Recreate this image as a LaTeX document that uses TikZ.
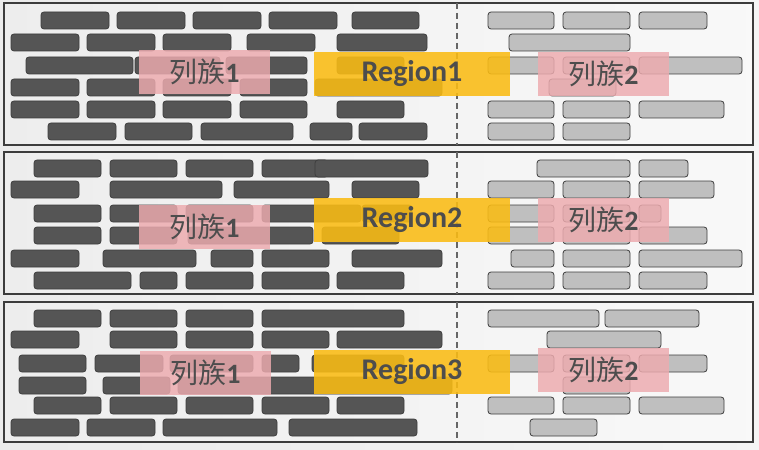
\documentclass[tikz,border=0pt]{standalone}
\usepackage{fontspec}
\setmainfont[Numbers=Lining]{Carlito}
\newfontfamily\cjk{Noto Sans CJK SC}
\usetikzlibrary{positioning}
\definecolor{bardark}{RGB}{85,85,85}
\definecolor{barline}{RGB}{62,62,62}
\definecolor{barlight}{RGB}{191,191,191}
\definecolor{famcol}{RGB}{237,171,175}
\definecolor{regcol}{RGB}{250,188,20}
\definecolor{txtgray}{RGB}{77,77,77}
\definecolor{framegray}{RGB}{60,60,60}

\begin{document}
\begin{tikzpicture}[x=1pt,y=-1pt,inner sep=0pt]
\tikzstyle{frame}=[draw=framegray, line width=2pt, left color=gray!14, middle color=white, right color=gray!5]
\tikzstyle{dark}=[fill=bardark, draw=barline, line width=0.8pt, rounded corners=3pt]
\tikzstyle{light}=[fill=barlight, draw=barline, line width=0.8pt, rounded corners=3pt]
\tikzstyle{divider}=[draw=black!60, line width=1.2pt, dash pattern=on 6pt off 4pt]
\tikzstyle{family}=[rectangle, fill=famcol, fill opacity=0.83, text opacity=1, text=txtgray, minimum width=131pt, minimum height=44pt, font=\fontsize{28}{28}\selectfont]
\tikzstyle{region}=[rectangle, fill=regcol, fill opacity=0.88, text opacity=1, text=txtgray, minimum width=196pt, minimum height=44pt, font=\fontsize{30}{30}\selectfont\bfseries]

\shade[left color=gray!16, middle color=white, right color=gray!8] (0,0) rectangle (759,449);
\useasboundingbox (0,0) rectangle (759,449);

% three regions
\foreach \top/\bot in {3/145, 152/294, 302/442}{
  \draw[frame] (4,\top) rectangle (753,\bot);
}

% column family 1 cells
\foreach \a/\b/\y in {41/109/12, 117/185/12, 193/261/12, 269/337/12, 352/419/12,
    11/79/34, 87/155/34, 163/231/34, 247/315/34, 337/427/34,
    26/133/57, 135/220/57, 226/307/57, 337/404/57,
    11/79/79, 87/155/79, 163/231/79, 240/307/79, 315/442/79,
    11/79/101, 87/155/101, 163/231/101, 240/307/101, 337/404/101,
    48/116/123, 125/192/123, 201/293/123, 310/352/123, 359/427/123,
    34/101/160, 110/177/160, 186/253/160, 262/328/160, 315/428/160,
    11/79/181, 110/222/181, 234/329/181, 352/419/181,
    34/101/205, 110/177/205, 186/253/205, 262/361/205, 362/412/205,
    34/101/227, 110/177/227, 188/313/227, 322/399/227,
    11/79/250, 103/196/250, 211/253/250, 262/329/250, 352/442/250,
    34/131/272, 140/177/272, 186/253/272, 262/329/272, 337/404/272,
    34/101/310, 110/177/310, 186/253/310, 262/404/310,
    11/79/331, 110/177/331, 186/253/331, 262/329/331, 337/442/331,
    19/86/355, 95/163/355, 170/253/355, 262/299/355, 312/404/355,
    19/86/377, 103/170/377, 178/452/377,
    34/101/397, 110/177/397, 186/253/397, 262/329/397, 337/404/397,
    11/79/419, 87/155/419, 163/277/419, 289/417/419}
  \draw[dark] (\a,\y) rectangle (\b,\y+17);

% column family 2 cells
\foreach \a/\b/\y in {488/554/12, 563/630/12, 639/707/12,
    509/630/34,
    488/554/57, 563/630/57, 639/742/57,
    549/616/79,
    488/554/101, 563/630/101, 639/724/101,
    488/554/123, 563/630/123,
    537/630/160, 639/688/160,
    488/554/181, 563/630/181, 639/714/181,
    488/554/205, 563/630/205, 639/661/205,
    488/554/227, 563/630/227, 639/707/227,
    511/554/250, 563/630/250, 639/742/250,
    488/554/272, 563/630/272, 639/707/272,
    488/599/310, 605/699/310,
    547/661/331,
    488/554/355, 563/630/355, 639/707/355,
    563/630/377,
    488/554/397, 563/630/397, 639/724/397,
    530/597/419}
  \draw[light] (\a,\y) rectangle (\b,\y+17);

\foreach \top/\bot in {3/145, 152/294, 302/442}{
  \draw[divider] (457,\top) -- (457,\bot);
}

\node[family] (famA1) at (204.5,72) {{\cjk 列族}\textbf{1}};
\node[region] (reg1) at (412,74) {Region1};
\node[family] (famB1) at (603.5,74) {{\cjk 列族}\textbf{2}};

\node[family] (famA2) at (204.5,226.5) {{\cjk 列族}\textbf{1}};
\node[region] (reg2) at (412,220) {Region2};
\node[family] (famB2) at (603.5,220) {{\cjk 列族}\textbf{2}};

\node[family] (famA3) at (205.5,372.5) {{\cjk 列族}\textbf{1}};
\node[region] (reg3) at (412,372) {Region3};
\node[family] (famB3) at (603.5,370) {{\cjk 列族}\textbf{2}};
\end{tikzpicture}
\end{document}
